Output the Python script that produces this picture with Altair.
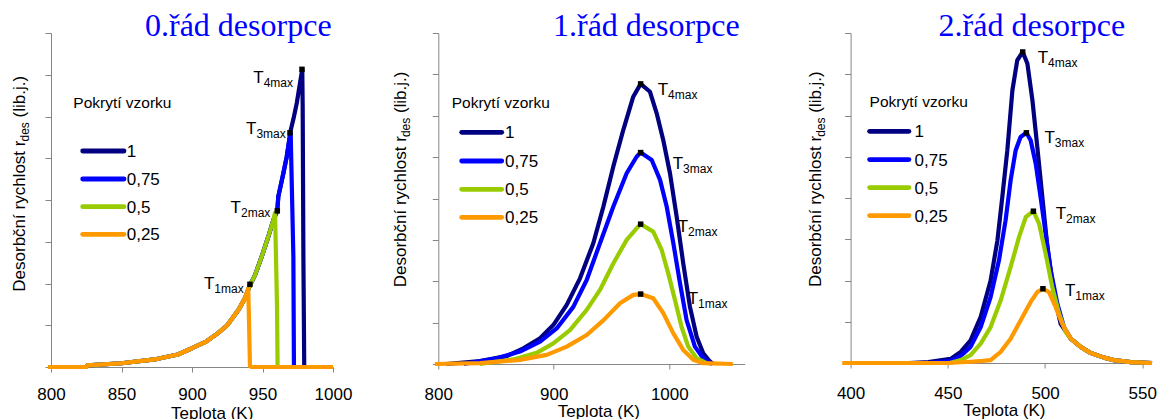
import altair as alt
import pandas as pd

FONT = "Liberation Sans"
SERIF = "Liberation Serif"
AXIS_GREY = "#868686"

# coverage legend entries, in drawing order (back to front)
COVERAGES = ["1", "0,75", "0,5", "0,25"]
COLORS = ["#000080", "#0000ff", "#99cc00", "#ff9900"]
TMAX_SUBS = ["1max", "2max", "3max", "4max"]

# ---------------- 0th order desorption ----------------
Z_T_100 = [798, 825, 825.8, 850, 875, 890, 900, 910, 918, 925, 933, 937.6, 941.1, 944.7, 949.4, 954.1,
           957.7, 960.5, 961.2, 964.8, 967.2, 969.0, 969.5, 972.0, 974.3, 976.6, 978.2, 978.5, 979.0, 979.6, 1000]
Z_R_100 = [0, 0, 0.04, 0.09, 0.19, 0.30, 0.45, 0.61, 0.80, 1.00, 1.37, 1.65, 1.96, 2.20, 2.64, 3.12,
           3.52, 3.74, 4.08, 4.64, 5.04, 5.44, 5.60, 5.95, 6.32, 6.80, 7.13, 6.23, 2.64, 0, 0]
Z_T_075 = [798, 825, 825.8, 850, 875, 890, 900, 910, 918, 925, 933, 937.6, 941.1, 944.7, 949.4, 954.1,
           957.7, 960.5, 961.2, 964.8, 967.2, 969.0, 970.0, 970.3, 971.9, 972.3, 1000]
Z_R_075 = [0, 0, 0.04, 0.09, 0.19, 0.30, 0.45, 0.61, 0.80, 1.00, 1.37, 1.65, 1.96, 2.20, 2.64, 3.12,
           3.52, 3.74, 4.08, 4.64, 5.04, 5.44, 5.60, 5.10, 2.64, 0, 0]
Z_T_050 = [798, 825, 825.8, 850, 875, 890, 900, 910, 918, 925, 933, 937.6, 941.1, 944.7, 949.4, 954.1,
           957.7, 958.9, 959.4, 960.3, 960.7, 1000]
Z_R_050 = [0, 0, 0.04, 0.09, 0.19, 0.30, 0.45, 0.61, 0.80, 1.00, 1.37, 1.65, 1.96, 2.20, 2.64, 3.12,
           3.52, 3.70, 2.90, 1.44, 0, 0]
Z_T_025 = [798, 825, 825.8, 850, 875, 890, 900, 910, 918, 925, 933, 937.6, 939.9, 940.5, 941.1, 942.3, 1000]
Z_R_025 = [0, 0, 0.04, 0.09, 0.19, 0.30, 0.45, 0.61, 0.80, 1.00, 1.37, 1.65, 1.88, 1.00, 0.02, 0, 0]
Z_TMAX = [941.1, 960.5, 969.5, 978.0]
Z_RMAX = [1.98, 3.74, 5.61, 7.13]

# ---------------- 1st order desorption ----------------
F_T_100 = [807, 836.1, 859.2, 873.6, 888.1, 899.6, 911.2, 922.7, 934.2, 942.9, 951.5, 960.2, 968.8, 975.2,
           983.3, 989.1, 994.8, 1000.6, 1006.4, 1012.1, 1017.9, 1023.7, 1029.4, 1035.2, 1038]
F_R_100 = [0, 0.07, 0.19, 0.38, 0.62, 0.94, 1.43, 2.07, 2.92, 3.80, 4.77, 5.66, 6.46, 6.77,
           6.58, 6.06, 5.41, 4.61, 3.56, 2.43, 1.38, 0.66, 0.26, 0.06, 0]
F_T_075 = [822, 850.6, 870.7, 888.1, 902.5, 916.9, 928.5, 940, 951.5, 963.1, 971.7, 975.2,
           984.8, 992, 997.8, 1003.5, 1009.3, 1015, 1022.2, 1029.4, 1036.6]
F_R_075 = [0, 0.14, 0.30, 0.54, 0.86, 1.38, 2.03, 2.92, 3.80, 4.61, 5.01, 5.11,
           4.93, 4.45, 3.80, 2.92, 1.95, 1.06, 0.42, 0.14, 0]
F_T_050 = [836, 864.9, 885.2, 899.6, 914, 928.5, 940, 951.5, 963.1, 971.7, 975.2,
           986.1, 993.4, 999.1, 1004.9, 1010.6, 1016.4, 1023.7, 1032.3]
F_R_050 = [0, 0.11, 0.27, 0.50, 0.82, 1.31, 1.79, 2.43, 3.00, 3.28, 3.38,
           3.20, 2.76, 2.19, 1.55, 0.90, 0.42, 0.14, 0.02]
F_T_025 = [797, 836, 870.7, 893.9, 911.2, 928.5, 943.1, 957.3, 968.8, 975.2,
           986.1, 994.8, 1003.5, 1012.1, 1020.8, 1029.4, 1055]
F_R_025 = [0, 0.02, 0.10, 0.22, 0.42, 0.70, 1.06, 1.47, 1.67, 1.69,
           1.59, 1.23, 0.74, 0.34, 0.10, 0.02, 0]
F_TMAX = [975.2, 975.2, 975.2, 975.2]
F_RMAX = [1.69, 3.38, 5.11, 6.77]

# ---------------- 2nd order desorption ----------------
S_T_100 = [430, 440, 451.4, 456.6, 461.7, 466.9, 472.0, 475.5, 478.0, 480.6, 483.2, 485.7, 488.5,
           490.9, 493.5, 496.0, 498.6, 501.2, 504.6, 508.0, 513.2, 518.3, 523.5, 530.3, 535.4, 544, 555]
S_R_100 = [0, 0.02, 0.10, 0.27, 0.55, 1.12, 2.00, 2.97, 4.02, 5.16, 6.61, 7.34, 7.54,
           7.26, 6.37, 5.24, 4.02, 2.81, 1.68, 0.95, 0.59, 0.39, 0.24, 0.13, 0.07, 0.02, 0]
S_T_075 = [440, 451.4, 456.6, 461.7, 466.9, 472.0, 476.3, 479.7, 482.3, 484.9, 487.4, 490.4,
           492.6, 495.2, 497.7, 500.3, 502.9, 506.3, 509.7, 513.2, 518.3, 523.5, 530.3, 535.4, 544, 555]
S_R_075 = [0, 0.05, 0.17, 0.39, 0.87, 1.60, 2.49, 3.46, 4.43, 5.16, 5.48, 5.58,
           5.40, 4.83, 4.02, 3.14, 2.25, 1.44, 0.87, 0.59, 0.39, 0.24, 0.13, 0.07, 0.02, 0]
S_T_050 = [451, 456.6, 461.7, 466.9, 472.0, 477.2, 482.3, 486.6, 490.1, 494.0,
           496.9, 500.3, 503.7, 507.2, 510.6, 513.2, 518.3, 523.5, 530.3, 535.4, 544, 555]
S_R_050 = [0, 0.07, 0.19, 0.47, 0.87, 1.52, 2.33, 3.05, 3.54, 3.68,
           3.38, 2.65, 1.84, 1.20, 0.75, 0.59, 0.39, 0.24, 0.13, 0.07, 0.02, 0]
S_T_025 = [395.7, 450, 461.7, 468, 472.0, 477.2, 482.3, 487.4, 492.6, 496.0, 498.9,
           502.0, 505.4, 508.8, 513.2, 518.3, 523.5, 530.3, 535.4, 544, 555]
S_R_025 = [0, 0, 0.03, 0.05, 0.07, 0.27, 0.59, 1.03, 1.48, 1.72, 1.80,
           1.72, 1.36, 0.95, 0.59, 0.39, 0.24, 0.13, 0.07, 0.02, 0]
S_TMAX = [498.9, 494.0, 490.4, 488.5]
S_RMAX = [1.80, 3.68, 5.58, 7.54]

ONE = pd.DataFrame({"k": [0]})


def curve(T, r):
    return pd.DataFrame({"T": T, "r": r, "i": list(range(len(T)))})


def panel(series, tmax, rmax, title, lay):
    w, h = lay["width"], lay["height"]
    x_enc = alt.X(
        "T:Q",
        scale=alt.Scale(domain=lay["xdom"], nice=False, zero=False),
        axis=alt.Axis(
            values=lay["xticks"], format="d", grid=False,
            domainColor=AXIS_GREY, tickColor=AXIS_GREY, tickSize=5,
            labelFont=FONT, labelFontSize=17, labelColor="black",
            labelPadding=lay["labpad"], labelFlush=False, labelOverlap=False,
            title="Teplota (K)", titleFont=FONT, titleFontSize=17,
            titleFontWeight="normal", titleColor="black",
            titleX=lay["xtitle_x"], titleY=lay["xtitle_y"],
            titleAlign="center", titleBaseline="alphabetic",
        ),
    )
    y_enc = alt.Y(
        "r:Q",
        scale=alt.Scale(domain=[0, 8], nice=False),
        axis=alt.Axis(values=list(range(9)), labels=False, grid=False, title="",
                      domainColor=AXIS_GREY, tickColor=AXIS_GREY, tickSize=6),
    )

    layers = []
    # desorption curves, full coverage at the back
    for (T, r), color in zip(series, COLORS):
        layers.append(
            alt.Chart(curve(T, r)).mark_line(
                color=color, strokeWidth=4.2, strokeJoin="round"
            ).encode(x=x_enc, y=y_enc, order="i:Q")
        )

    # peak markers and their T_max labels
    peaks = pd.DataFrame({"T": tmax, "r": rmax})
    layers.append(
        alt.Chart(peaks).mark_square(size=30, color="black", opacity=1)
        .encode(x=x_enc, y=y_enc)
    )
    for k, (dx, dy) in enumerate(lay["tlabels"]):
        one = peaks.iloc[[k]]
        layers.append(
            alt.Chart(one).mark_text(
                text="T", font=FONT, fontSize=17, align="left",
                baseline="alphabetic", dx=dx, dy=dy, color="black",
            ).encode(x=x_enc, y=y_enc)
        )
        layers.append(
            alt.Chart(one).mark_text(
                text=TMAX_SUBS[k], font=FONT, fontSize=12, align="left",
                baseline="alphabetic", dx=dx + 10.4, dy=dy + 4, color="black",
            ).encode(x=x_enc, y=y_enc)
        )

    # panel heading
    layers.append(
        alt.Chart(ONE).mark_text(
            text=title, font=SERIF, fontSize=32, color="#0000ff",
            align="left", baseline="alphabetic",
        ).encode(x=alt.value(lay["title_x"]), y=alt.value(lay["title_y"]))
    )

    # vertical axis title with subscript
    yx, ybot = lay["ytitle_x"], lay["ytitle_bottom"]
    parts = [
        ("Desorbční rychlost r", 17, 0, 0),
        ("des", 12, 4, 150.2),
        ("(lib.j.)", 17, 0, 174.2),
    ]
    for txt, fs, shift, along in parts:
        layers.append(
            alt.Chart(ONE).mark_text(
                text=txt, font=FONT, fontSize=fs, angle=270, align="left",
                baseline="alphabetic", color="black",
            ).encode(x=alt.value(yx + shift), y=alt.value(ybot - along))
        )

    # coverage legend
    lg = lay["legend"]
    layers.append(
        alt.Chart(ONE).mark_text(
            text="Pokrytí vzorku", font=FONT, fontSize=15.5, align="left",
            baseline="alphabetic", color="black",
        ).encode(x=alt.value(lg["title_x"]), y=alt.value(lg["title_y"]))
    )
    for lab, color, ry in zip(COVERAGES, COLORS, lg["rows"]):
        layers.append(
            alt.Chart(ONE).mark_rule(color=color, strokeWidth=4.8, strokeCap="round")
            .encode(x=alt.value(lg["x0"]), x2=alt.value(lg["x1"]), y=alt.value(ry))
        )
        layers.append(
            alt.Chart(ONE).mark_text(
                text=lab, font=FONT, fontSize=17, align="left",
                baseline="alphabetic", color="black",
            ).encode(x=alt.value(lg["label_x"]), y=alt.value(ry + 6))
        )

    return alt.layer(*layers).properties(width=w, height=h)


p0 = panel(
    [(Z_T_100, Z_R_100), (Z_T_075, Z_R_075), (Z_T_050, Z_R_050), (Z_T_025, Z_R_025)],
    Z_TMAX, Z_RMAX, "0.řád desorpce",
    dict(width=282, height=334, xdom=[800, 1000], xticks=[800, 850, 900, 950, 1000],
         labpad=14, xtitle_x=160.7, xtitle_y=51.5,
         tlabels=[(-46, 5), (-46.7, 1.7), (-44, 1), (-48.7, 13.7)],
         title_x=94, title_y=3, ytitle_x=-26, ytitle_bottom=258.7,
         legend=dict(title_x=22.3, title_y=75, x0=31.7, x1=73, label_x=75.7,
                     rows=[118, 146, 173.7, 201.3])),
)
p1 = panel(
    [(F_T_100, F_R_100), (F_T_075, F_R_075), (F_T_050, F_R_050), (F_T_025, F_R_025)],
    F_TMAX, F_RMAX, "1.řád desorpce",
    dict(width=306.4, height=331, xdom=[800, 1065.3], xticks=[800, 900, 1000],
         labpad=17, xtitle_x=160, xtitle_y=52.5,
         tlabels=[(47, 10), (37, 8.3), (32, 16.6), (17, 11)],
         title_x=114.7, title_y=3, ytitle_x=-32.3, ytitle_bottom=254.3,
         legend=dict(title_x=13.4, title_y=75.3, x0=23.4, x1=63.4, label_x=66.7,
                     rows=[99.3, 128, 156.3, 184.3])),
)
p2 = panel(
    [(S_T_100, S_R_100), (S_T_075, S_R_075), (S_T_050, S_R_050), (S_T_025, S_R_025)],
    S_TMAX, S_RMAX, "2.řád desorpce",
    dict(width=291.7, height=330, xdom=[400, 550], xticks=[400, 450, 500, 550],
         labpad=17, xtitle_x=153.3, xtitle_y=52.5,
         tlabels=[(22, 7.5), (22.3, 7.3), (18, 10), (15, 11.5)],
         title_x=88, title_y=2.5, ytitle_x=-30, ytitle_bottom=254,
         legend=dict(title_x=19, title_y=74, x0=19, x1=58.3, label_x=64,
                     rows=[98.3, 126.6, 154.6, 182.6])),
)

chart = (
    alt.hconcat(p0, p1, p2, spacing=105.3, bounds="flush")
    .properties(padding={"left": 10, "top": 9, "right": 0, "bottom": 0}, background="white")
    .configure_view(strokeWidth=0)
)

chart.save("out.html", embed_options={"renderer": "svg", "actions": False})
